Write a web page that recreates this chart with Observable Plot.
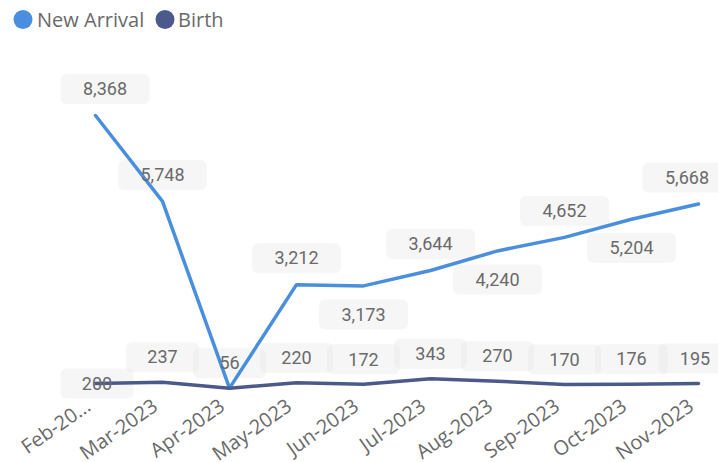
<!DOCTYPE html>
<html>
<head>
<meta charset="utf-8">
<script src="https://cdn.jsdelivr.net/npm/d3@7"></script>
<script src="https://cdn.jsdelivr.net/npm/@observablehq/plot@0.6"></script>
<style>
  html, body { margin: 0; padding: 0; background: #fff; }
  #legend { display: block; }
</style>
</head>
<body>
<div id="chart"></div>
<script>
// ---- data ----
const months = ["Feb-2023", "Mar-2023", "Apr-2023", "May-2023", "Jun-2023", "Jul-2023", "Aug-2023", "Sep-2023", "Oct-2023", "Nov-2023"];
const tickLabels = ["Feb-20...", "Mar-2023", "Apr-2023", "May-2023", "Jun-2023", "Jul-2023", "Aug-2023", "Sep-2023", "Oct-2023", "Nov-2023"];
const newArrival = [8368, 5748, 56, 3212, 3173, 3644, 4240, 4652, 5204, 5668];
const birth = [200, 237, 56, 220, 172, 343, 270, 170, 176, 195];
const newArrivalLabelPlace = ["above", "above", null, "above", "below", "above", "below", "above", "below", "above"];
const birthLabelPlace = ["center", "above", "above", "above", "above", "above", "above", "above", "above", "above"];
const seriesNames = ["New Arrival", "Birth"];
const seriesColors = ["#4A8FDD", "#4B5A8B"];

// ---- layout ----
const W = 718, H = 424, LEGEND_H = 38;
const ML = 93, MR = 19, MT = 77, MB = 72.5;
const step = (W - ML - MR) / (months.length - 1);
const fmt = d3.format(",");

const naData = months.map((m, i) => ({month: m, value: newArrival[i], i}));
const birthData = months.map((m, i) => ({month: m, value: birth[i], i}));

function roundRect(w, h, r) {
  return {
    draw(ctx) {
      const x = -w / 2, y = -h / 2;
      ctx.moveTo(x + r, y);
      ctx.lineTo(x + w - r, y);
      ctx.arcTo(x + w, y, x + w, y + r, r);
      ctx.lineTo(x + w, y + h - r);
      ctx.arcTo(x + w, y + h, x + w - r, y + h, r);
      ctx.lineTo(x + r, y + h);
      ctx.arcTo(x, y + h, x, y + h - r, r);
      ctx.lineTo(x, y + r);
      ctx.arcTo(x, y, x + r, y, r);
      ctx.closePath();
    }
  };
}

function labelMarks(data, places, boxW, dyAbove, dyBelow) {
  const boxes = [], texts = [];
  const sym = roundRect(boxW, 30, 6);
  data.forEach((d, i) => {
    const p = places[i];
    if (!p) return;
    const px = ML + i * step;
    const cx = Math.max(58 + boxW / 2, Math.min(732 - boxW / 2, px));
    const dx = cx - px;
    const dy = p === "above" ? dyAbove : p === "below" ? dyBelow : 0;
    boxes.push(Plot.dot([d], {x: "month", y: "value", symbol: sym, fill: "#e0e0e0", fillOpacity: 0.3, stroke: "none", dx, dy}));
    texts.push(Plot.text([d], {x: "month", y: "value", text: d => fmt(d.value), dx, dy: dy + 0.5,
      fill: "#6a6a6a", fontSize: 18, fontFamily: "Roboto"}));
  });
  return {boxes, texts};
}

const naL = labelMarks(naData, newArrivalLabelPlace, 89, -26.5, 28.5);
const bL = labelMarks(birthData, birthLabelPlace, 73, -25, 0);

const plot = Plot.plot({
  width: W,
  height: H,
  marginLeft: ML,
  marginRight: MR,
  marginTop: MT,
  marginBottom: MB,
  style: {fontFamily: "'Open Sans', sans-serif", fontSize: "20px", color: "#6a6a6a", background: "#fff"},
  x: {type: "point", domain: months, padding: 0, label: null},
  y: {domain: [0, d3.max(newArrival)], axis: null},
  marks: [
    Plot.axisX({tickRotate: -35, tickSize: 0, tickPadding: 11, dx: -7, dy: 3,
      tickFormat: d => tickLabels[months.indexOf(d)], label: null, fontSize: 20}),
    ...naL.boxes,
    ...bL.boxes,
    Plot.line(naData, {x: "month", y: "value", stroke: seriesColors[0], strokeWidth: 3.5, strokeLinejoin: "round", strokeLinecap: "round"}),
    Plot.line(birthData, {x: "month", y: "value", stroke: seriesColors[1], strokeWidth: 3.5, strokeLinejoin: "round", strokeLinecap: "round"}),
    ...naL.texts,
    ...bL.texts
  ]
});

// legend above the chart
const legend = d3.create("svg").attr("id", "legend").attr("width", W).attr("height", LEGEND_H);
const legendX = [[23, 37], [165, 178]];
seriesNames.forEach((name, k) => {
  legend.append("circle").attr("cx", legendX[k][0]).attr("cy", 19.5).attr("r", 9.5).attr("fill", seriesColors[k]);
  legend.append("text").attr("x", legendX[k][1]).attr("y", 26.5).text(name)
    .attr("fill", "#6a6a6a").attr("font-family", "'Open Sans', sans-serif").attr("font-size", 20);
});

const chart = document.getElementById("chart");
chart.appendChild(legend.node());
chart.appendChild(plot);
</script>
</body>
</html>
